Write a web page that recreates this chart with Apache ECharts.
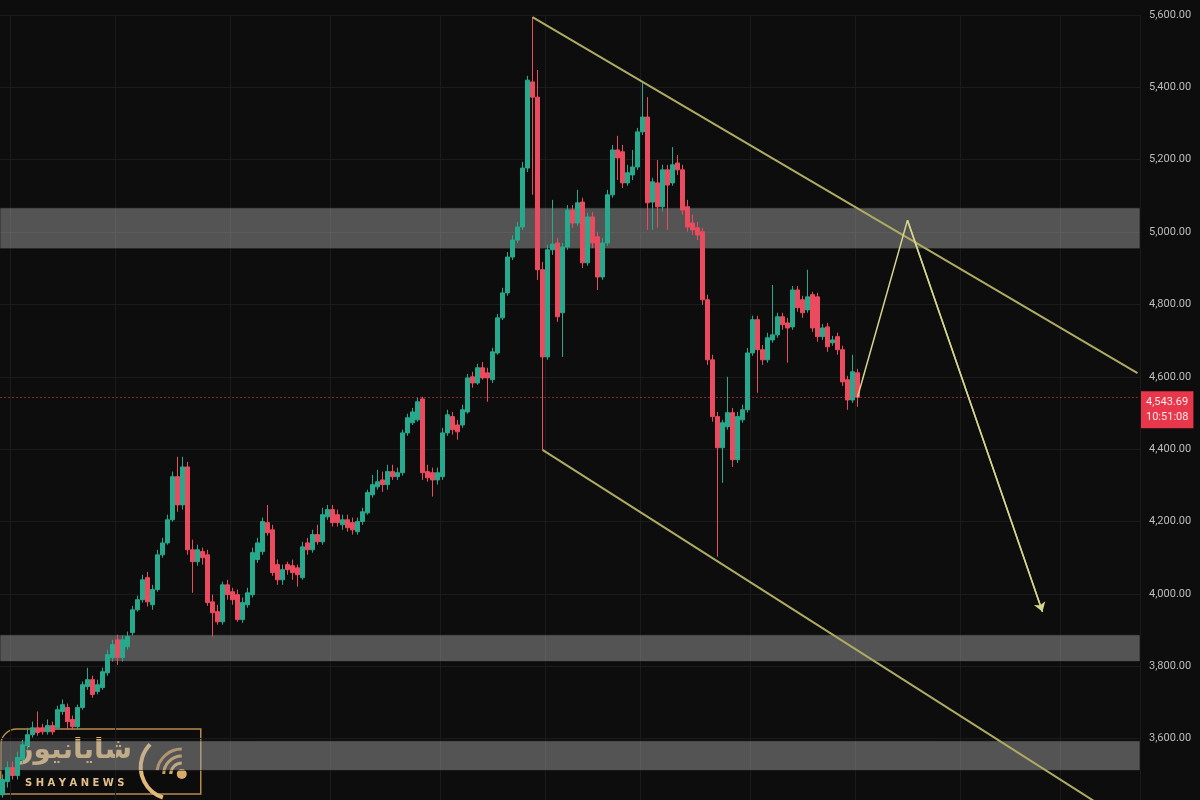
<!DOCTYPE html>
<html lang="en">
<head>
    <meta charset="UTF-8">
    <title>Chart</title>
    <style>
        html, body { margin: 0; padding: 0; background: #0d0d0d; }
    </style>
</head>
<body>
<div class="main" style="width: 100vw;height: 100vh;margin: auto"></div>
</body>
<script src="https://cdn.jsdelivr.net/npm/echarts@6/dist/echarts.min.js"></script>
<script>
    var main = document.querySelector(".main");
    var mainEcharts = echarts.init(main);

    // axis
    var slotCount = 228;
    var yMin = 3400, yMax = 5600, yStep = 200;
    var gridCols = [2, 23, 46, 66, 88, 109, 128, 150, 171, 192, 212];

    // candles: [open, close, low, high]
    var candles = [
        [3445, 3487, 3437, 3501], [3481, 3520, 3465, 3537], [3520, 3498, 3487, 3537], [3498, 3548, 3487, 3564],
        [3542, 3583, 3531, 3597], [3581, 3611, 3570, 3630], [3611, 3630, 3603, 3647], [3630, 3617, 3608, 3675],
        [3630, 3619, 3611, 3641], [3619, 3636, 3611, 3653], [3636, 3619, 3611, 3647], [3630, 3680, 3625, 3691],
        [3675, 3694, 3666, 3708], [3686, 3647, 3625, 3697], [3653, 3633, 3625, 3664], [3633, 3686, 3625, 3694],
        [3686, 3749, 3680, 3758], [3744, 3763, 3735, 3796], [3763, 3722, 3713, 3774], [3730, 3749, 3722, 3763],
        [3741, 3785, 3735, 3796], [3782, 3832, 3774, 3846], [3824, 3860, 3813, 3873], [3873, 3824, 3804, 3887],
        [3824, 3873, 3813, 3885], [3854, 3882, 3846, 3896], [3893, 3956, 3885, 3967], [3956, 3984, 3951, 3995],
        [3984, 4039, 3976, 4053], [4045, 3978, 3965, 4061], [3970, 4012, 3956, 4025], [4012, 4108, 4006, 4122],
        [4108, 4141, 4100, 4155], [4141, 4205, 4136, 4219], [4205, 4324, 4200, 4338], [4324, 4246, 4227, 4379],
        [4246, 4351, 4233, 4379], [4351, 4122, 4108, 4365], [4122, 4089, 4003, 4150], [4089, 4122, 4078, 4136],
        [4117, 4100, 4081, 4128], [4108, 3976, 3967, 4122], [3978, 3948, 3882, 3998], [3951, 3923, 3915, 3970],
        [3923, 4025, 3915, 4034], [4025, 3998, 3984, 4039], [4006, 3984, 3970, 4017], [3998, 3929, 3923, 4012],
        [3929, 3976, 3920, 3990], [3970, 4003, 3962, 4017], [3998, 4114, 3990, 4128], [4095, 4141, 4086, 4155],
        [4117, 4200, 4108, 4211], [4197, 4169, 4161, 4246], [4177, 4059, 4050, 4191], [4081, 4039, 4025, 4095],
        [4039, 4067, 4025, 4081], [4081, 4067, 4053, 4089], [4078, 4059, 4039, 4095], [4072, 4053, 4020, 4081],
        [4045, 4130, 4039, 4144], [4141, 4122, 4108, 4155], [4122, 4164, 4114, 4177], [4164, 4144, 4136, 4191],
        [4144, 4219, 4136, 4238], [4213, 4233, 4205, 4246], [4233, 4197, 4186, 4246], [4219, 4197, 4186, 4233],
        [4191, 4205, 4177, 4219], [4205, 4183, 4172, 4219], [4197, 4177, 4164, 4211], [4172, 4200, 4164, 4211],
        [4200, 4227, 4191, 4238], [4224, 4280, 4219, 4288], [4274, 4302, 4266, 4329], [4296, 4310, 4288, 4343],
        [4315, 4302, 4282, 4338], [4302, 4338, 4288, 4357], [4338, 4324, 4315, 4357], [4324, 4335, 4315, 4349],
        [4335, 4445, 4327, 4454], [4445, 4487, 4437, 4498], [4473, 4503, 4467, 4514], [4481, 4531, 4476, 4542],
        [4539, 4335, 4315, 4545], [4338, 4321, 4310, 4357], [4335, 4315, 4269, 4349], [4315, 4335, 4302, 4349],
        [4324, 4445, 4315, 4459], [4445, 4495, 4437, 4509], [4490, 4454, 4440, 4503], [4467, 4448, 4426, 4481],
        [4467, 4509, 4459, 4523], [4503, 4597, 4498, 4608], [4600, 4583, 4570, 4614], [4583, 4625, 4578, 4636],
        [4625, 4597, 4592, 4641], [4611, 4597, 4531, 4625], [4592, 4669, 4583, 4680], [4666, 4763, 4661, 4774],
        [4763, 4832, 4757, 4846], [4832, 4931, 4824, 4945], [4931, 4978, 4923, 4992], [4978, 5014, 4970, 5028],
        [5014, 5177, 5006, 5194], [5177, 5420, 5166, 5432], [5415, 5373, 5103, 5594], [5373, 4896, 4868, 5448],
        [4896, 4655, 4398, 4918], [4655, 4951, 4647, 4965], [4951, 4967, 4937, 5089], [4970, 4766, 4752, 4984],
        [4777, 4959, 4655, 4970], [4959, 5061, 4951, 5075], [5061, 5025, 5012, 5075], [5025, 5081, 5017, 5117],
        [5083, 4915, 4901, 5095], [4915, 5042, 4907, 5053], [5042, 4970, 4956, 5056], [4987, 4876, 4840, 5001],
        [4876, 4970, 4868, 4984], [4970, 5103, 4962, 5117], [5103, 5227, 5095, 5241], [5227, 5205, 5144, 5266],
        [5222, 5136, 5122, 5241], [5136, 5164, 5128, 5186], [5158, 5180, 5144, 5227], [5180, 5277, 5172, 5288],
        [5277, 5318, 5268, 5412], [5318, 5081, 5006, 5373], [5083, 5139, 5006, 5150], [5136, 5070, 5012, 5199],
        [5070, 5172, 5056, 5186], [5172, 5130, 5006, 5186], [5136, 5186, 5128, 5235], [5191, 5172, 5158, 5213],
        [5172, 5061, 5048, 5186], [5070, 5014, 5001, 5089], [5025, 5006, 4992, 5048], [5012, 4992, 4978, 5028],
        [5001, 4813, 4799, 5012], [4813, 4647, 4633, 4827], [4647, 4490, 4476, 4661], [4490, 4404, 4103, 4503],
        [4404, 4473, 4307, 4481], [4462, 4501, 4454, 4600], [4501, 4371, 4351, 4514], [4371, 4490, 4362, 4503],
        [4481, 4509, 4473, 4523], [4509, 4666, 4501, 4680], [4666, 4758, 4658, 4769], [4758, 4675, 4556, 4769],
        [4675, 4647, 4633, 4688], [4647, 4708, 4639, 4722], [4702, 4716, 4694, 4854], [4716, 4766, 4708, 4777],
        [4766, 4744, 4730, 4777], [4749, 4735, 4639, 4763], [4738, 4840, 4730, 4851], [4840, 4791, 4780, 4851],
        [4813, 4777, 4763, 4824], [4785, 4821, 4777, 4896], [4827, 4735, 4724, 4835], [4821, 4711, 4697, 4832],
        [4711, 4735, 4702, 4746], [4738, 4683, 4669, 4749], [4694, 4702, 4686, 4713], [4711, 4675, 4661, 4722],
        [4675, 4586, 4575, 4686], [4592, 4536, 4509, 4603], [4536, 4614, 4528, 4661], [4611, 4543.69, 4517, 4622]
    ];

    // drawings
    var lastPrice = 4543.69;
    var countdown = "10:51:08";
    var zoneTop = [4954, 5067];
    var zoneMid = [3813, 3887];
    var zoneLow = [3512, 3594];
    var channelTop = [[106, 5594], [227, 4610]];
    var channelBottom = [[108, 4398], [227, 3351]];
    var projection = [[171, 4543.69], [181, 5033], [208, 3951]];

    var categories = [];
    for (var i = 0; i < slotCount; i++) categories.push(String(i));

    function fmt(v) {
        return v.toLocaleString("en-US", {minimumFractionDigits: 2, maximumFractionDigits: 2});
    }

    var option = {
        backgroundColor: "#0d0d0d",
        animation: false,
        grid: {left: 0, right: 60, top: 15, bottom: -11, containLabel: false, outerBoundsMode: "none"},
        xAxis: {
            type: "category",
            data: categories,
            axisLine: {show: false},
            axisTick: {show: false},
            axisLabel: {show: false},
            splitLine: {
                show: true,
                interval: function (index) { return gridCols.indexOf(index) >= 0; },
                lineStyle: {color: "#1b1b1b", width: 1}
            }
        },
        yAxis: {
            type: "value",
            position: "right",
            min: yMin,
            max: yMax,
            interval: yStep,
            axisLine: {show: false},
            axisTick: {show: false},
            axisLabel: {
                color: "#bdbdbd",
                fontSize: 11,
                fontFamily: "Roboto",
                margin: 9,
                formatter: function (v) { return fmt(v); }
            },
            splitLine: {lineStyle: {color: "#1b1b1b", width: 1}}
        },
        series: [
            {
                type: "candlestick",
                data: candles,
                barWidth: 4,
                z: 2,
                itemStyle: {
                    color: "#27a98d", color0: "#eb4b5f",
                    borderColor: "#27a98d", borderColor0: "#eb4b5f",
                    borderWidth: 1
                },
                markLine: {
                    silent: true,
                    symbol: ["none", "none"],
                    data: [{yAxis: lastPrice}],
                    lineStyle: {color: "rgba(235,60,80,0.55)", type: [2, 2], width: 1},
                    label: {
                        position: "end",
                        distance: 1,
                        verticalAlign: "top",
                        offset: [0, -6],
                        formatter: fmt(lastPrice) + "\n" + countdown,
                        backgroundColor: "#e8374b",
                        color: "#ffe9ea",
                        fontSize: 11,
                        fontFamily: "Roboto",
                        lineHeight: 15,
                        padding: [4, 5, 3, 5]
                    }
                }
            },
            {
                type: "line",
                data: [],
                z: 3,
                silent: true,
                markArea: {
                    silent: true,
                    itemStyle: {color: "rgba(165,165,165,0.47)", borderColor: "rgba(0,0,0,0.5)", borderWidth: 1},
                    data: [
                        [{yAxis: zoneTop[0]}, {yAxis: zoneTop[1]}],
                        [{yAxis: zoneMid[0]}, {yAxis: zoneMid[1]}],
                        [{yAxis: zoneLow[0]}, {yAxis: zoneLow[1]}]
                    ]
                }
            },
            {
                type: "line",
                data: channelTop,
                z: 4,
                showSymbol: false,
                silent: true,
                lineStyle: {color: "#aeac62", width: 2}
            },
            {
                type: "line",
                data: channelBottom,
                z: 4,
                showSymbol: false,
                silent: true,
                lineStyle: {color: "#aeac62", width: 2}
            },
            {
                type: "line",
                data: projection,
                z: 5,
                showSymbol: false,
                silent: true,
                lineStyle: {color: "#d6d58c", width: 1.5},
                markLine: {
                    silent: true,
                    symbol: ["none", "arrow"],
                    symbolSize: 9,
                    label: {show: false},
                    lineStyle: {color: "#d6d58c", width: 1.5, type: "solid"},
                    data: [[{coord: projection[1]}, {coord: projection[2]}]]
                }
            }
        ],
        graphic: [
            {
                type: "group",
                left: 0,
                bottom: 0,
                z: 100,
                children: [
                    {
                        type: "rect",
                        shape: {x: 0, y: 0, width: 200, height: 65, r: [16, 0, 0, 0]},
                        style: {fill: "rgba(12,12,12,0.72)", stroke: "#b88a4c", lineWidth: 1.5}
                    },
                    {
                        type: "text",
                        style: {
                            x: 74, y: 22, text: "شایانیوز", align: "center", verticalAlign: "middle",
                            fontSize: 28, fontWeight: "bold", fontFamily: "DejaVu Sans", fill: "#dcb070"
                        }
                    },
                    {
                        type: "text",
                        style: {
                            x: 74, y: 54, text: "S H A Y A N E W S", align: "center", verticalAlign: "middle",
                            fontSize: 10, fontWeight: "bold", fontFamily: "DejaVu Sans", fill: "#e3c08a"
                        }
                    },
                    {type: "circle", shape: {cx: 181, cy: 45, r: 5}, style: {fill: "#d9ab68"}},
                    {type: "arc", shape: {cx: 181, cy: 45, r: 11, startAngle: Math.PI, endAngle: Math.PI * 1.5}, style: {stroke: "#d4a865", lineWidth: 3, fill: "none"}},
                    {type: "arc", shape: {cx: 181, cy: 45, r: 18, startAngle: Math.PI, endAngle: Math.PI * 1.5}, style: {stroke: "#c99a58", lineWidth: 3, fill: "none"}},
                    {type: "arc", shape: {cx: 181, cy: 45, r: 25, startAngle: Math.PI * 1.05, endAngle: Math.PI * 1.5}, style: {stroke: "#b8874a", lineWidth: 3, fill: "none"}},
                    {type: "arc", shape: {cx: 172, cy: 38, r: 32, startAngle: Math.PI * 0.6, endAngle: Math.PI * 1.25}, style: {stroke: "#e0b877", lineWidth: 4, fill: "none"}}
                ]
            }
        ]
    };

    mainEcharts.setOption(option);

    window.onresize = function () { mainEcharts.resize(); };
</script>
</html>
